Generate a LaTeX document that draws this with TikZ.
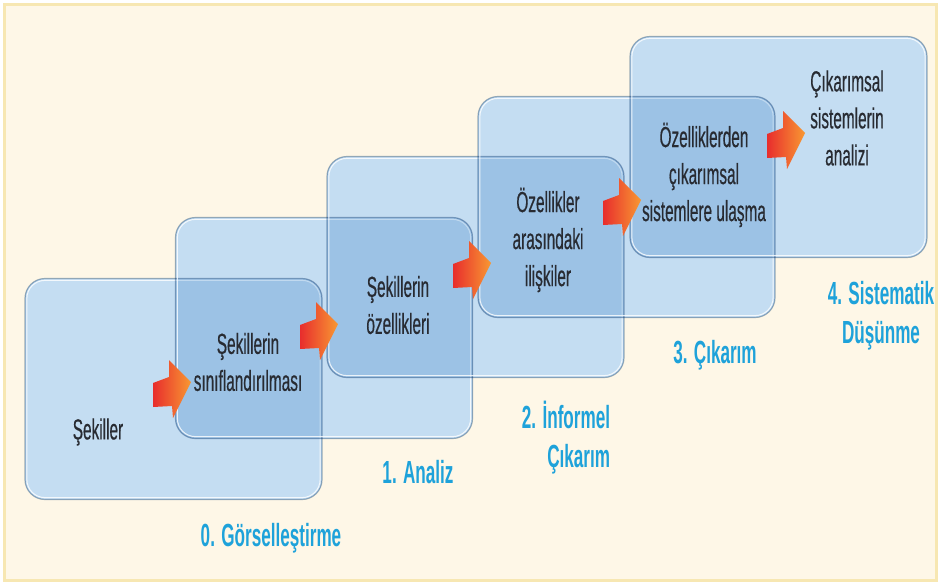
\documentclass[tikz,border=0pt]{standalone}
\usepackage{fontspec}
\newfontfamily\boxfont{Liberation Sans}[FakeStretch=0.53, FakeBold=0.4]
\newfontfamily\labfont{Liberation Sans}[FakeStretch=0.535]
\usetikzlibrary{calc}
\definecolor{cream}{RGB}{254,247,231}
\definecolor{frameyel}{RGB}{247,231,178}
\definecolor{boxbase}{RGB}{247,252,255}
\definecolor{boxfill}{RGB}{203,224,242}
\definecolor{boxedge}{RGB}{160,180,200}
\definecolor{txtgray}{RGB}{40,43,50}
\definecolor{labblue}{RGB}{30,162,218}
\definecolor{arrred}{RGB}{232,45,45}
\definecolor{arrorange}{RGB}{248,152,50}
\tikzset{
  stagebase/.style={rectangle, rounded corners=20pt, minimum width=297pt, minimum height=221pt,
    fill=boxbase, inner sep=0pt},
  stage/.style={rectangle, rounded corners=20pt, minimum width=297pt, minimum height=221pt,
    fill=boxfill, draw=boxedge, line width=1.2pt, inner sep=0pt, blend mode=multiply},
  gloss/.style={draw=white, line width=1pt, draw opacity=0.8, rounded corners=18pt},
  boxtext/.style={align=center, text=txtgray, font=\boxfont\fontsize{29}{37}\selectfont, inner sep=0pt},
  stagelabel/.style={text=labblue, font=\labfont\bfseries\fontsize{32}{39}\selectfont, inner sep=0pt},
  flow/.style={left color=arrred, right color=arrorange},
  blockarrow/.pic={\shade[flow] (0,-12) -- (16,-18) -- (16,-35) -- (38,-13) -- (20,23) -- (19,11) -- (0,12) -- cycle;}
}
\begin{document}
\begin{tikzpicture}[x=1pt,y=-1pt]
\useasboundingbox (0,0) rectangle (940,584);
\fill[white] (0,0) rectangle (940,584);
\draw[fill=cream, draw=frameyel, line width=3pt] (4,4) rectangle (936,580);

% base layer of the stage boxes (union)
\foreach \n/\cx/\cy in {0/173.5/389, 1/324/328, 2/475.5/267, 3/626.5/207, 4/778.5/147}{
  \node[stagebase] (g\n) at (\cx,\cy) {};
}
% stage boxes
\foreach \n/\cx/\cy in {0/173.5/389, 1/324/328, 2/475.5/267, 3/626.5/207, 4/778.5/147}{
  \node[stage] (b\n) at (\cx,\cy) {};
  \draw[gloss] ($(b\n.north west)+(2.5,2.5)$) rectangle ($(b\n.south east)+(-2.5,-2.5)$);
}

% box texts
\node[boxtext] (t0) at (98,432) {Şekiller};
\node[boxtext] (t1) at (248,362) {Şekillerin\\sınıflandırılması};
\node[boxtext] (t2) at (398,305) {Şekillerin\\özellikleri};
\node[boxtext] (t3) at (548,240) {Özellikler\\arasındaki\\ilişkiler};
\node[boxtext] (t4) at (704,175) {Özelliklerden\\çıkarımsal\\sistemlere ulaşma};
\node[boxtext] (t5) at (847,118) {Çıkarımsal\\sistemlerin\\analizi};

% arrows
\coordinate (a0) at (153,395);
\coordinate (a1) at (300,337);
\coordinate (a2) at (453,276);
\coordinate (a3) at (603,213);
\coordinate (a4) at (767,146);
\foreach \n in {0,...,4}{ \pic at (a\n) {blockarrow}; }

% stage labels
\node[stagelabel] (l0) at (271,538) {0. Görselleştirme};
\node[stagelabel] (l1) at (418,472) {1. Analiz};
\node[stagelabel, align=right] (l2) at (566,438) {2. İnformel\\Çıkarım};
\node[stagelabel] (l3) at (715,355) {3. Çıkarım};
\node[stagelabel, align=center] (l4) at (881,316) {4. Sistematik\\Düşünme};
\end{tikzpicture}
\end{document}
